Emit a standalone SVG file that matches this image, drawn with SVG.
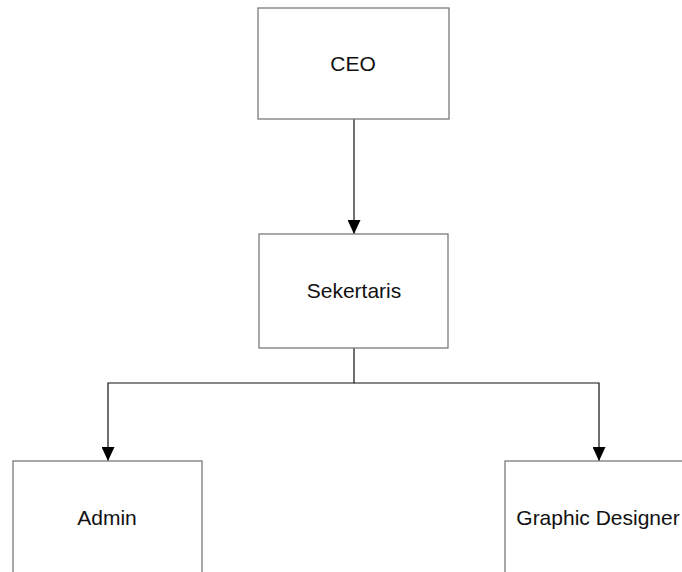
<svg xmlns="http://www.w3.org/2000/svg" width="682" height="572" viewBox="0 0 682 572">
<defs>
<style>
.box{fill:#fff;stroke:#7a7a7a;stroke-width:1.3}
.lbl{font-family:"Liberation Sans",Arial,sans-serif;font-size:21px;fill:#111;text-anchor:middle}
.con{fill:none;stroke:#111;stroke-width:1.2}
</style>
<marker id="arr" viewBox="0 0 14 13" markerWidth="14" markerHeight="13" refX="14" refY="6.5" orient="auto" markerUnits="userSpaceOnUse">
<path d="M0,0 L14,6.5 L0,13 Z" fill="#000"/>
</marker>
</defs>
<rect width="682" height="572" fill="#fff"/>
<g id="connectors">
<path class="con" d="M354,119 V234" marker-end="url(#arr)"/>
<path class="con" d="M354,348 V383 H108 V461" marker-end="url(#arr)"/>
<path class="con" d="M354,383 H599 V461" marker-end="url(#arr)"/>
</g>
<g id="ceo">
<rect class="box" x="258" y="8" width="191" height="111"/>
<text class="lbl" x="353" y="71">CEO</text>
</g>
<g id="sekertaris">
<rect class="box" x="259" y="234" width="189" height="114"/>
<text class="lbl" x="354" y="298">Sekertaris</text>
</g>
<g id="admin">
<rect class="box" x="13" y="461" width="189" height="120"/>
<text class="lbl" x="107" y="525">Admin</text>
</g>
<g id="graphic-designer">
<rect class="box" x="505" y="461" width="189" height="120"/>
<text class="lbl" x="598" y="525">Graphic Designer</text>
</g>
</svg>
